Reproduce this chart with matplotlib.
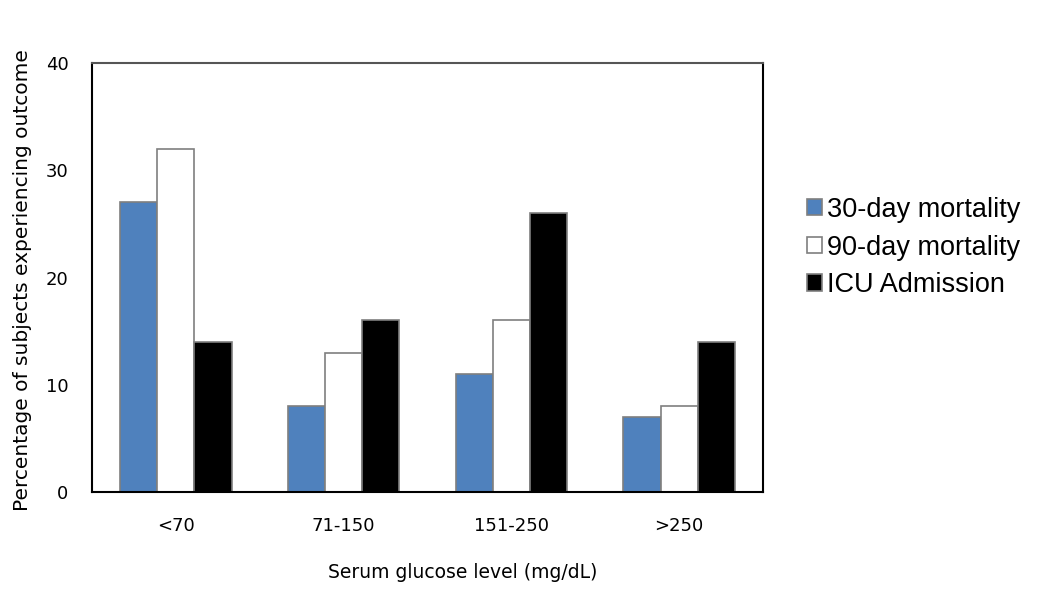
import matplotlib
matplotlib.use("Agg")
import matplotlib.pyplot as plt
import numpy as np

categories = ["<70", "71-150", "151-250", ">250"]
mort30 = [27, 8, 11, 7]
mort90 = [32, 13, 16, 8]
icu = [14, 16, 26, 14]
series_names = ["30-day mortality", "90-day mortality", "ICU Admission"]
colors = ["#4F81BD", "#FFFFFF", "#000000"]

plt.rcParams['font.family'] = ['DejaVu Sans']

fig = plt.figure(figsize=(10.5, 6.04), dpi=100)
ax = fig.add_axes([0.0876, 0.1854, 0.6391, 0.7103])

x = np.arange(len(categories))
w = 0.222
for i, (vals, name, c) in enumerate(zip([mort30, mort90, icu], series_names, colors)):
    ax.bar(x + (i - 1) * w, vals, width=w, color=c, edgecolor="#7F7F7F", linewidth=1.2, label=name)

ax.set_xlim(-0.5, 3.5)
ax.set_ylim(0, 40)
ax.set_yticks([0, 10, 20, 30, 40])
ax.set_xticks(x)
ax.set_xticklabels(categories)
ax.tick_params(axis='both', length=0, labelsize=13)
ax.tick_params(axis='y', pad=17)
ax.tick_params(axis='x', pad=18)
for s in ax.spines.values():
    s.set_linewidth(1.5)
    s.set_color("black")
ax.spines['top'].set_color("#555555")

fig.text(463 / 1050, 1 - 572 / 604, "Serum glucose level (mg/dL)", fontsize=13.5,
         ha="center", va="center")
fig.text(23 / 1050, 1 - 280 / 604, "Percentage of subjects experiencing outcome", fontsize=14.5,
         rotation=90, ha="center", va="center")

leg = fig.legend(loc="upper left", bbox_to_anchor=(0.7457, 0.7144), frameon=False,
                 prop={'family': 'Liberation Sans', 'size': 19.5},
                 handlelength=0.55, handleheight=0.55, handletextpad=0.19,
                 labelspacing=0.43)

fig.savefig("out.png", dpi=100)
